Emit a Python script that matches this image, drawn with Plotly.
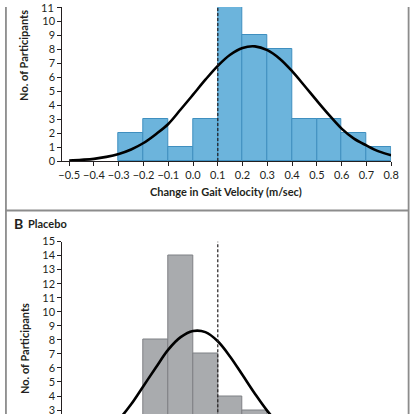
import plotly.graph_objects as go

# histogram bins are 0.1 wide, given by their centres
active_bins = [-0.25, -0.15, -0.05, 0.05, 0.15, 0.25, 0.35, 0.45, 0.55, 0.65, 0.75]
active_counts = [2, 3, 1, 3, 12, 9, 8, 3, 3, 2, 1]

placebo_bins = [-0.35, -0.25, -0.15, -0.05, 0.05, 0.15, 0.25, 0.35]
placebo_counts = [1, 2, 8, 14, 7, 4, 3, 2]

# fitted normal curves, every 0.05
curve_x = [-0.5, -0.45, -0.4, -0.35, -0.3, -0.25, -0.2, -0.15, -0.1, -0.05, 0.0,
           0.05, 0.1, 0.15, 0.2, 0.25, 0.3, 0.35, 0.4, 0.45, 0.5, 0.55, 0.6,
           0.65, 0.7, 0.75, 0.8]
active_curve = [0.04, 0.09, 0.16, 0.30, 0.51, 0.83, 1.29, 1.92, 2.65, 3.68, 4.74,
                5.81, 6.80, 7.59, 8.08, 8.19, 7.92, 7.31, 6.42, 5.38, 4.31, 3.28,
                2.32, 1.60, 1.12, 0.69, 0.41]
placebo_curve = [0.26, 0.49, 0.88, 1.47, 2.32, 3.41, 4.72, 6.03, 7.30, 8.19, 8.63,
                 8.55, 7.90, 6.80, 5.49, 4.16, 2.94, 1.95, 1.21, 0.70, 0.38, 0.19,
                 0.09, 0.04, 0.02, 0.01, 0.0]

x_ticks = [-0.5, -0.4, -0.3, -0.2, -0.1, 0.0, 0.1, 0.2, 0.3, 0.4, 0.5, 0.6, 0.7, 0.8]
threshold = 0.1

FONT = "Lato"
INK = "#231f20"
FRAME = "#8c8c8c"

fig = go.Figure()

fig.add_trace(go.Bar(x=active_bins, y=active_counts, width=0.1,
                     marker=dict(color="#6cb4dc", line=dict(color="#3f8fbf", width=1)),
                     xaxis="x", yaxis="y"))
fig.add_trace(go.Scatter(x=curve_x, y=active_curve, mode="lines",
                         line=dict(color="black", width=2.6, shape="spline"),
                         xaxis="x", yaxis="y"))
fig.add_trace(go.Bar(x=placebo_bins, y=placebo_counts, width=0.1,
                     marker=dict(color="#a9abae", line=dict(color="#7f8185", width=1)),
                     xaxis="x2", yaxis="y2"))
fig.add_trace(go.Scatter(x=curve_x, y=placebo_curve, mode="lines",
                         line=dict(color="black", width=2.6, shape="spline"),
                         xaxis="x2", yaxis="y2"))

xdom = [60 / 420, 398.5 / 420]
xcommon = dict(range=[-0.528, 0.8], domain=xdom, showline=True, linecolor=INK,
               linewidth=1, ticks="outside", ticklen=4, tickcolor=INK,
               tickvals=x_ticks, tickformat=".1f", showgrid=False, zeroline=False,
               tickfont=dict(family=FONT, size=11, color=INK))
ycommon = dict(showline=True, linecolor=INK, linewidth=1, ticks="outside",
               ticklen=4, tickcolor=INK, dtick=1, showgrid=False, zeroline=False,
               tickfont=dict(family=FONT, size=11, color=INK))

fig.update_layout(
    width=420, height=420,
    margin=dict(l=0, r=0, t=0, b=0, pad=0),
    paper_bgcolor="white", plot_bgcolor="white",
    showlegend=False, bargap=0,
    xaxis=dict(xcommon, anchor="y"),
    yaxis=dict(ycommon, range=[0, 11], domain=[261 / 420, 1.0], anchor="x"),
    xaxis2=dict(xcommon, anchor="y2", showline=False, ticks="", showticklabels=False),
    yaxis2=dict(ycommon, range=[2.72, 15], domain=[0, 178 / 420], anchor="x2"),
)

# dashed threshold lines
for xr, yr in [("x", "y"), ("x2", "y2")]:
    fig.add_shape(type="line", xref=xr, yref=yr, x0=threshold, x1=threshold, y0=0, y1=15,
                  line=dict(color=INK, width=1.2, dash="3px,2px"))

# panel frames
for x0, y0, x1, y1 in [(2 / 420, 0, 2 / 420, 1), (416.5 / 420, 0, 416.5 / 420, 1),
                       (2 / 420, 0.5, 416.5 / 420, 0.5)]:
    fig.add_shape(type="line", xref="paper", yref="paper", x0=x0, y0=y0, x1=x1, y1=y1,
                  line=dict(color=FRAME, width=1.8))

# the "11" tick label of panel A sits half outside the top edge
fig.add_annotation(text="11", xref="paper", yref="y", x=54 / 420, y=11,
                   xanchor="right", yanchor="middle", showarrow=False,
                   font=dict(family=FONT, size=11, color=INK))

title_font = dict(family=FONT, size=11, color=INK, weight="bold")
fig.add_annotation(text="Change in Gait Velocity (m/sec)", xref="paper", yref="paper",
                   x=229 / 420, y=(420 - 190) / 420, xanchor="center", yanchor="middle",
                   showarrow=False, font=title_font)
fig.add_annotation(text="No. of Participants", xref="paper", yref="paper",
                   x=20 / 420, y=(420 - 50) / 420, xanchor="center", yanchor="middle",
                   textangle=-90, showarrow=False, font=title_font)
fig.add_annotation(text="No. of Participants", xref="paper", yref="paper",
                   x=20.5 / 420, y=(420 - 352) / 420, xanchor="center", yanchor="middle",
                   textangle=-90, showarrow=False, font=title_font)
fig.add_annotation(text="B", xref="paper", yref="paper", x=8 / 420, y=(420 - 223.5) / 420,
                   xanchor="left", yanchor="middle", showarrow=False,
                   font=dict(family=FONT, size=14, color=INK, weight="bold"))
fig.add_annotation(text="Placebo", xref="paper", yref="paper", x=22.5 / 420,
                   y=(420 - 223.5) / 420, xanchor="left", yanchor="middle", showarrow=False,
                   font=dict(family=FONT, size=11, color=INK, weight="bold"))

# drop the page's default body margin and scrollbars so the figure fills the window
fig.write_html(
    "out.html",
    config={"displayModeBar": False},
    post_script="document.body.style.margin='0';"
                "document.documentElement.style.overflow='hidden';"
                "document.body.style.overflow='hidden';",
)
